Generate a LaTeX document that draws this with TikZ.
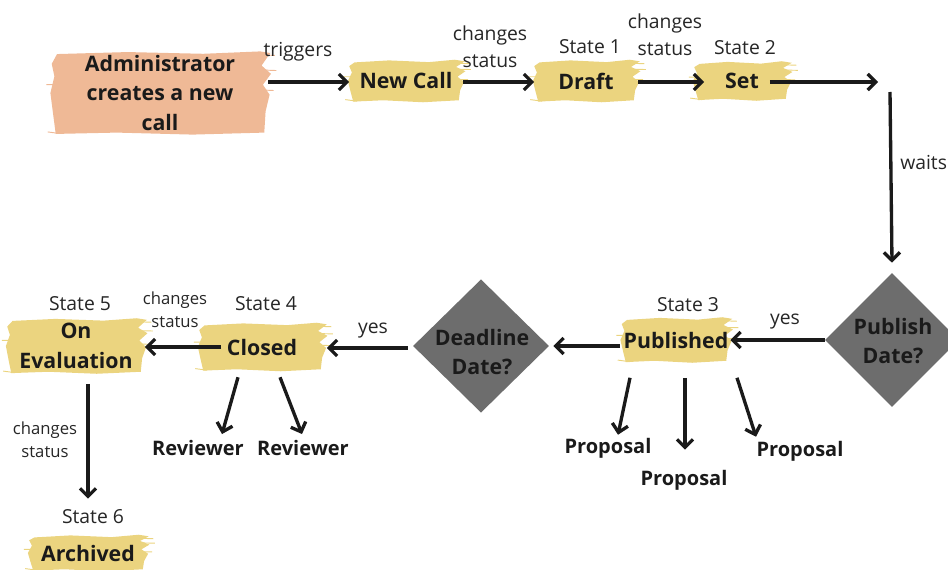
\documentclass[tikz,border=0pt]{standalone}
\usepackage{fontspec}
\setmainfont{Open Sans}
\usetikzlibrary{arrows.meta,calc,shapes.geometric,backgrounds}
\definecolor{brushY}{HTML}{EBD47F}
\definecolor{brushP}{HTML}{EFB996}
\definecolor{decis}{HTML}{6D6D6D}
\definecolor{ink}{HTML}{1A1A1A}
\definecolor{soft}{HTML}{262626}

% paint-brush patch behind a named box node
\newcommand\brush[2]{%
  \fill[#2] let \p1=(#1.south west), \p2=(#1.north east) in
    (\x1+4pt,\y2-2pt)
    -- ({\x1+0.35*(\x2-\x1)},\y2-0.5pt)
    -- ({\x1+0.7*(\x2-\x1)},\y2-1.8pt)
    -- (\x2-6pt,\y2)
    -- (\x2+1.5pt,\y2-1.2pt)
    -- (\x2-5pt,{\y2-0.17*(\y2-\y1)})
    -- (\x2+2pt,{\y2-0.27*(\y2-\y1)})
    -- (\x2-4pt,{\y2-0.40*(\y2-\y1)})
    -- (\x2+1pt,{\y2-0.52*(\y2-\y1)})
    -- (\x2-2pt,{\y2-0.72*(\y2-\y1)})
    -- (\x2-3pt,\y1+1.5pt)
    -- ({\x1+0.65*(\x2-\x1)},\y1)
    -- ({\x1+0.3*(\x2-\x1)},\y1+1.5pt)
    -- (\x1+3pt,\y1+0.5pt)
    -- (\x1+1pt,{\y1+0.25*(\y2-\y1)})
    -- (\x1-1pt,{\y1+0.5*(\y2-\y1)})
    -- (\x1+2pt,{\y1+0.7*(\y2-\y1)})
    -- (\x1,{\y1+0.85*(\y2-\y1)})
    -- cycle;
  \draw[#2, line width=0.7pt] let \p1=(#1.south west), \p2=(#1.north east) in
    (\x2-10pt,\y2-2.5pt) -- (\x2+5pt,\y2-3pt)
    (\x2-10pt,{\y2-0.22*(\y2-\y1)}) -- (\x2+6pt,{\y2-0.23*(\y2-\y1)})
    (\x2-10pt,{\y2-0.46*(\y2-\y1)}) -- (\x2+4pt,{\y2-0.47*(\y2-\y1)})
    (\x1+6pt,\y1+0.8pt) -- (\x1-3pt,\y1+2pt)
    (\x1+6pt,{\y1+0.6*(\y2-\y1)}) -- (\x1-4pt,{\y1+0.6*(\y2-\y1)});
}

\begin{document}
\begin{tikzpicture}[x=0.75pt,y=-0.75pt,
  box/.style={inner sep=0pt, align=center, text=ink,
    font=\fontsize{16}{22}\selectfont\bfseries},
  dia/.style={shape=diamond, aspect=1, fill=decis, inner sep=0pt},
  dtxt/.style={inner sep=0pt, align=center, text=ink,
    font=\fontsize{16}{22}\selectfont\bfseries},
  lbl/.style={inner sep=0pt, align=center, text=soft,
    font=\fontsize{14.5}{20}\selectfont},
  slbl/.style={inner sep=0pt, align=center, text=soft,
    font=\fontsize{12.5}{17}\selectfont},
  leaf/.style={inner sep=0pt, text=ink,
    font=\fontsize{15}{20}\selectfont\bfseries},
  arr/.style={line width=2.5pt, ink, -{Straight Barb[length=6pt,width=12pt]}}]

\useasboundingbox (0,0) rectangle (948,570);
\clip (0,0) rectangle (948,570);

% ---- boxes
\node[box, minimum width=162pt, minimum height=62pt] (admin) at (160,93)
  {Administrator\\creates a new\\call};
\node[box, minimum width=84.75pt, minimum height=31.5pt] (newcall) at (406,81) {New Call};
\node[box, minimum width=77.25pt, minimum height=31.5pt] (draft) at (586,81) {Draft};
\node[box, minimum width=71.25pt, minimum height=29.25pt] (set) at (742,81) {Set};
\node[box, minimum width=81pt, minimum height=33.75pt] (published) at (676,340) {Published};
\node[box, minimum width=93.75pt, minimum height=36pt] (closed) at (262,347) {Closed};
\node[box, minimum width=102.75pt, minimum height=41.25pt] (oneval) at (76,346) {On\\Evaluation};
\node[box, minimum width=87.75pt, minimum height=27pt] (archived) at (88,553) {Archived};

% ---- decisions
\node[dia, minimum width=100.5pt, minimum height=100.5pt] (pubd) at (892,340) {};
\node[dtxt] (pubt) at (893,341) {Publish\\Date?};
\node[dia, minimum width=102pt, minimum height=100pt] (ddl) at (481,346) {};
\node[dtxt] (ddlt) at (482,352) {Deadline\\Date?};

% ---- paint behind the boxes
\begin{scope}[on background layer]
  \brush{admin}{brushP}
  \brush{newcall}{brushY}
  \brush{draft}{brushY}
  \brush{set}{brushY}
  \brush{published}{brushY}
  \brush{closed}{brushY}
  \brush{oneval}{brushY}
  \brush{archived}{brushY}
\end{scope}

% ---- state labels
\node[lbl] (s1) at (590,47) {State 1};
\node[lbl] (s2) at (745,48) {State 2};
\node[lbl] (s3) at (688,305) {State 3};
\node[lbl] (s4) at (266,304) {State 4};
\node[lbl] (s5) at (80,304) {State 5};
\node[lbl] (s6) at (93,517) {State 6};

% ---- edge labels
\node[lbl] (ltrig) at (298,52) {triggers};
\node[lbl] (lch1) at (490,47) {changes\\status};
\node[lbl] (lch2) at (665,35) {changes\\status};
\node[lbl, anchor=west] (lwait) at (900,163) {waits};
\node[lbl] (lyes1) at (785,322) {yes};
\node[lbl] (lyes2) at (373,331) {yes};
\node[slbl] (lch3) at (175,310) {changes\\status};
\node[slbl] (lch4) at (45,440) {changes\\status};

% ---- leaves
\node[leaf] (rev1) at (198,448) {Reviewer};
\node[leaf] (rev2) at (303,448) {Reviewer};
\node[leaf] (prop1) at (608,448) {Proposal};
\node[leaf] (prop2) at (684,480) {Proposal};
\node[leaf] (prop3) at (800,451) {Proposal};

% ---- corner of the flow
\coordinate (c1) at (878,82);
\coordinate (c2) at (890,92);

% ---- connectors
\draw[arr] ($(admin.east |- newcall.west)+(0,1)$) -- ($(newcall.west)+(0,1)$);
\draw[arr] ($(newcall.east)+(0,1)$) -- ($(draft.west)+(0,1)$);
\draw[arr] ($(draft.east)+(0,1)$) -- ($(set.west)+(10,1)$);
\draw[arr] ($(set.east)+(-20,1)$) -- (c1);
\draw[arr] (c2) -- ($(pubd.north)+(0,-10)$);
\draw[arr] (pubd.west) -- (published.east);
\draw[arr] ($(published.west)+(-2,6)$) -- ($(ddl.east)+(4,0)$);
\draw[arr] ($(ddl.west)+(-5,2)$) -- ($(closed.east)+(2,1)$);
\draw[arr] ($(closed.west)+(22,0)$) -- (oneval.east |- closed.west);
\draw[arr] ($(oneval.south)+(12,10)$) -- ($(archived.north)+(0,-36)$);
\draw[arr] ($(closed.south)+(-24,6)$) -- ($(rev1.north)+(24,-6)$);
\draw[arr] ($(closed.south)+(18,6)$) -- ($(rev2.north)+(-1,-6)$);
\draw[arr] ($(published.south)+(-46,15)$) -- ($(prop1.north)+(10,-3)$);
\draw[arr] ($(published.south)+(9,15)$) -- ($(prop2.north)+(1,-20)$);
\draw[arr] ($(published.south)+(61,15)$) -- ($(prop3.north)+(-44,-4)$);
\end{tikzpicture}
\end{document}
